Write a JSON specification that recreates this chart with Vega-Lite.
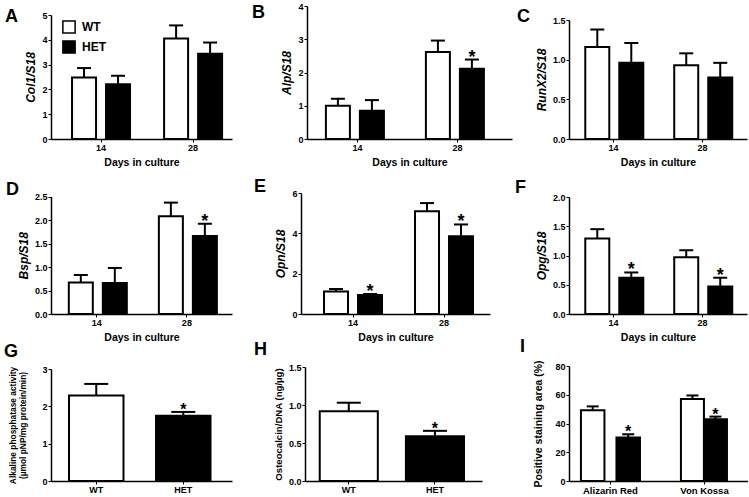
{
  "$schema": "https://vega.github.io/schema/vega-lite/v6.json",
  "padding": {"left": 4, "top": 2, "right": 0, "bottom": 0},
  "background": "white",
  "config": {
    "view": {"stroke": null},
    "font": "Liberation Sans",
    "axis": {"domainColor": "black", "domainWidth": 1.5, "tickColor": "black", "tickWidth": 1, "tickSize": 3, "labelFont": "Liberation Sans", "labelFontWeight": "bold", "labelFontSize": 9, "labelColor": "black", "titleFont": "Liberation Sans", "titleFontWeight": "bold", "titleColor": "black", "grid": false, "labelPadding": 1},
    "axisX": {"labelAngle": 0, "titleFontSize": 10.5, "titlePadding": 5},
    "axisY": {"titleFontSize": 12, "titleFontStyle": "italic", "titlePadding": 4},
    "title": {"fontSize": 18, "fontWeight": "bold", "anchor": "start", "frame": "group", "color": "black", "font": "Liberation Sans", "baseline": "alphabetic", "offset": 0}
  },
  "columns": 3,
  "align": "each",
  "spacing": {"row": 52, "column": 0},
  "bounds": "flush",
  "resolve": {"scale": {"fill": "independent"}, "legend": {"fill": "independent"}},
  "concat": [
    {
      "width": 256, "height": 133,
      "title": {"text": "A", "dx": -46, "dy": 24},
      "data": {"values": [
        {"day": "14", "g": "WT", "v": 2.48, "e": 2.86, "s": 0},
        {"day": "14", "g": "HET", "v": 2.21, "e": 2.55, "s": 0},
        {"day": "28", "g": "WT", "v": 4.05, "e": 4.58, "s": 0},
        {"day": "28", "g": "HET", "v": 3.44, "e": 3.89, "s": 0}
      ]},
      "encoding": {
        "x": {"field": "day", "type": "nominal", "sort": ["14", "28"], "scale": {"range": [0, 181], "paddingInner": 0.37, "paddingOuter": 0.168, "align": 0.68}, "axis": {"title": "Days in culture"}},
        "xOffset": {"field": "g", "type": "nominal", "sort": ["WT", "HET"], "scale": {"paddingInner": 0.294, "paddingOuter": 0}},
        "y": {"field": "v", "type": "quantitative", "scale": {"domain": [0, 5], "range": [133, 9], "nice": false}, "axis": {"title": "Col1/S18", "values": [0, 1, 2, 3, 4, 5]}}
      },
      "layer": [
        {"mark": {"type": "bar", "stroke": "black", "strokeWidth": 2, "opacity": 1}, "encoding": {"fill": {"field": "g", "type": "nominal", "sort": ["WT", "HET"], "scale": {"domain": ["WT", "HET"], "range": ["white", "black"]}, "legend": {"orient": "none", "legendX": 11, "legendY": 14, "title": null, "symbolType": "square", "symbolSize": 150, "symbolStrokeColor": "black", "symbolStrokeWidth": 1.5, "symbolOpacity": 1, "labelFontSize": 12, "labelFontWeight": "bold", "labelFont": "Liberation Sans", "labelColor": "black", "rowPadding": 0, "labelOffset": 6, "padding": 0}}}},
        {"mark": {"type": "rule", "color": "black", "strokeWidth": 2, "opacity": 1}, "encoding": {"y2": {"field": "e"}}},
        {"mark": {"type": "tick", "color": "black", "thickness": 2, "size": 14, "opacity": 1}, "encoding": {"y": {"field": "e", "type": "quantitative"}}}
      ]
    },
    {
      "width": 262, "height": 133,
      "title": {"text": "B", "dx": -55, "dy": 24},
      "data": {"values": [
        {"day": "14", "g": "WT", "v": 1.0, "e": 1.21, "s": 0},
        {"day": "14", "g": "HET", "v": 0.85, "e": 1.17, "s": 0},
        {"day": "28", "g": "WT", "v": 2.62, "e": 2.96, "s": 0},
        {"day": "28", "g": "HET", "v": 2.11, "e": 2.39, "s": 1}
      ]},
      "encoding": {
        "x": {"field": "day", "type": "nominal", "sort": ["14", "28"], "scale": {"range": [0, 205], "paddingInner": 0.37, "paddingOuter": 0.21, "align": 0.45}, "axis": {"title": "Days in culture"}},
        "xOffset": {"field": "g", "type": "nominal", "sort": ["WT", "HET"], "scale": {"paddingInner": 0.32, "paddingOuter": 0}},
        "y": {"field": "v", "type": "quantitative", "scale": {"domain": [0, 4], "range": [133, 0], "nice": false}, "axis": {"title": "Alp/S18", "values": [0, 1, 2, 3, 4]}}
      },
      "layer": [
        {"mark": {"type": "bar", "stroke": "black", "strokeWidth": 2, "opacity": 1}, "encoding": {"fill": {"field": "g", "type": "nominal", "scale": {"domain": ["WT", "HET"], "range": ["white", "black"]}, "legend": null}}},
        {"mark": {"type": "rule", "color": "black", "strokeWidth": 2, "opacity": 1}, "encoding": {"y2": {"field": "e"}}},
        {"mark": {"type": "tick", "color": "black", "thickness": 2, "size": 14, "opacity": 1}, "encoding": {"y": {"field": "e", "type": "quantitative"}}},
        {"transform": [{"filter": "datum.s == 1"}], "mark": {"type": "text", "text": "*", "fontSize": 18, "fontWeight": "bold", "baseline": "alphabetic", "dy": 3, "color": "black"}, "encoding": {"y": {"field": "e", "type": "quantitative"}}}
      ]
    },
    {
      "width": 178, "height": 133,
      "title": {"text": "C", "dx": -52, "dy": 24},
      "data": {"values": [
        {"day": "14", "g": "WT", "v": 1.16, "e": 1.38, "s": 0},
        {"day": "14", "g": "HET", "v": 0.96, "e": 1.21, "s": 0},
        {"day": "28", "g": "WT", "v": 0.93, "e": 1.08, "s": 0},
        {"day": "28", "g": "HET", "v": 0.775, "e": 0.96, "s": 0}
      ]},
      "encoding": {
        "x": {"field": "day", "type": "nominal", "sort": ["14", "28"], "scale": {"range": [0, 178], "paddingInner": 0.365, "paddingOuter": 0.183, "align": 0.5}, "axis": {"title": "Days in culture"}},
        "xOffset": {"field": "g", "type": "nominal", "sort": ["WT", "HET"], "scale": {"paddingInner": 0.3, "paddingOuter": 0}},
        "y": {"field": "v", "type": "quantitative", "scale": {"domain": [0, 1.5], "range": [133, 14], "nice": false}, "axis": {"title": "RunX2/S18", "values": [0, 0.5, 1, 1.5], "format": ".1f"}}
      },
      "layer": [
        {"mark": {"type": "bar", "stroke": "black", "strokeWidth": 2, "opacity": 1}, "encoding": {"fill": {"field": "g", "type": "nominal", "scale": {"domain": ["WT", "HET"], "range": ["white", "black"]}, "legend": null}}},
        {"mark": {"type": "rule", "color": "black", "strokeWidth": 2, "opacity": 1}, "encoding": {"y2": {"field": "e"}}},
        {"mark": {"type": "tick", "color": "black", "thickness": 2, "size": 14, "opacity": 1}, "encoding": {"y": {"field": "e", "type": "quantitative"}}}
      ]
    },
    {
      "width": 256, "height": 123,
      "title": {"text": "D", "dx": -45, "dy": 12},
      "data": {"values": [
        {"day": "14", "g": "WT", "v": 0.67, "e": 0.83, "s": 0},
        {"day": "14", "g": "HET", "v": 0.66, "e": 0.98, "s": 0},
        {"day": "28", "g": "WT", "v": 2.08, "e": 2.37, "s": 0},
        {"day": "28", "g": "HET", "v": 1.66, "e": 1.92, "s": 1}
      ]},
      "encoding": {
        "x": {"field": "day", "type": "nominal", "sort": ["14", "28"], "scale": {"range": [0, 181], "paddingInner": 0.378, "paddingOuter": 0.194, "align": 0.51}, "axis": {"title": "Days in culture"}},
        "xOffset": {"field": "g", "type": "nominal", "sort": ["WT", "HET"], "scale": {"paddingInner": 0.33, "paddingOuter": 0}},
        "y": {"field": "v", "type": "quantitative", "scale": {"domain": [0, 2.5], "range": [123, 5.5], "nice": false}, "axis": {"title": "Bsp/S18", "values": [0, 0.5, 1, 1.5, 2, 2.5], "format": ".1f"}}
      },
      "layer": [
        {"mark": {"type": "bar", "stroke": "black", "strokeWidth": 2, "opacity": 1}, "encoding": {"fill": {"field": "g", "type": "nominal", "scale": {"domain": ["WT", "HET"], "range": ["white", "black"]}, "legend": null}}},
        {"mark": {"type": "rule", "color": "black", "strokeWidth": 2, "opacity": 1}, "encoding": {"y2": {"field": "e"}}},
        {"mark": {"type": "tick", "color": "black", "thickness": 2, "size": 14, "opacity": 1}, "encoding": {"y": {"field": "e", "type": "quantitative"}}},
        {"transform": [{"filter": "datum.s == 1"}], "mark": {"type": "text", "text": "*", "fontSize": 18, "fontWeight": "bold", "baseline": "alphabetic", "dy": 3, "color": "black"}, "encoding": {"y": {"field": "e", "type": "quantitative"}}}
      ]
    },
    {
      "width": 262, "height": 123,
      "title": {"text": "E", "dx": -53, "dy": 11},
      "data": {"values": [
        {"day": "14", "g": "WT", "v": 1.12, "e": 1.24, "s": 0},
        {"day": "14", "g": "HET", "v": 0.94, "e": 0.99, "s": 1},
        {"day": "28", "g": "WT", "v": 5.1, "e": 5.5, "s": 0},
        {"day": "28", "g": "HET", "v": 3.86, "e": 4.44, "s": 1}
      ]},
      "encoding": {
        "x": {"field": "day", "type": "nominal", "sort": ["14", "28"], "scale": {"range": [-6, 183], "paddingInner": 0.363, "paddingOuter": 0.22, "align": 0.575}, "axis": {"title": "Days in culture"}},
        "xOffset": {"field": "g", "type": "nominal", "sort": ["WT", "HET"], "scale": {"paddingInner": 0.29, "paddingOuter": 0}},
        "y": {"field": "v", "type": "quantitative", "scale": {"domain": [0, 6], "range": [123, 2], "nice": false}, "axis": {"title": "Opn/S18", "values": [0, 2, 4, 6], "offset": 6}}
      },
      "layer": [
        {"mark": {"type": "bar", "stroke": "black", "strokeWidth": 2, "opacity": 1}, "encoding": {"fill": {"field": "g", "type": "nominal", "scale": {"domain": ["WT", "HET"], "range": ["white", "black"]}, "legend": null}}},
        {"mark": {"type": "rule", "color": "black", "strokeWidth": 2, "opacity": 1}, "encoding": {"y2": {"field": "e"}}},
        {"mark": {"type": "tick", "color": "black", "thickness": 2, "size": 14, "opacity": 1}, "encoding": {"y": {"field": "e", "type": "quantitative"}}},
        {"transform": [{"filter": "datum.s == 1"}], "mark": {"type": "text", "text": "*", "fontSize": 18, "fontWeight": "bold", "baseline": "alphabetic", "dy": 3, "color": "black"}, "encoding": {"y": {"field": "e", "type": "quantitative"}}}
      ]
    },
    {
      "width": 178, "height": 123,
      "title": {"text": "F", "dx": -54, "dy": 10},
      "data": {"values": [
        {"day": "14", "g": "WT", "v": 1.29, "e": 1.45, "s": 0},
        {"day": "14", "g": "HET", "v": 0.62, "e": 0.71, "s": 1},
        {"day": "28", "g": "WT", "v": 0.97, "e": 1.09, "s": 0},
        {"day": "28", "g": "HET", "v": 0.47, "e": 0.62, "s": 1}
      ]},
      "encoding": {
        "x": {"field": "day", "type": "nominal", "sort": ["14", "28"], "scale": {"range": [0, 178], "paddingInner": 0.365, "paddingOuter": 0.183, "align": 0.5}, "axis": {"title": "Days in culture"}},
        "xOffset": {"field": "g", "type": "nominal", "sort": ["WT", "HET"], "scale": {"paddingInner": 0.3, "paddingOuter": 0}},
        "y": {"field": "v", "type": "quantitative", "scale": {"domain": [0, 2], "range": [123, 6], "nice": false}, "axis": {"title": "Opg/S18", "values": [0, 0.5, 1, 1.5, 2], "format": ".1f"}}
      },
      "layer": [
        {"mark": {"type": "bar", "stroke": "black", "strokeWidth": 2, "opacity": 1}, "encoding": {"fill": {"field": "g", "type": "nominal", "scale": {"domain": ["WT", "HET"], "range": ["white", "black"]}, "legend": null}}},
        {"mark": {"type": "rule", "color": "black", "strokeWidth": 2, "opacity": 1}, "encoding": {"y2": {"field": "e"}}},
        {"mark": {"type": "tick", "color": "black", "thickness": 2, "size": 14, "opacity": 1}, "encoding": {"y": {"field": "e", "type": "quantitative"}}},
        {"transform": [{"filter": "datum.s == 1"}], "mark": {"type": "text", "text": "*", "fontSize": 18, "fontWeight": "bold", "baseline": "alphabetic", "dy": 3, "color": "black"}, "encoding": {"y": {"field": "e", "type": "quantitative"}}}
      ]
    },
    {
      "width": 256, "height": 115,
      "title": {"text": "G", "dx": -47, "dy": 0},
      "data": {"values": [
        {"g": "WT", "v": 2.29, "e": 2.6, "s": 0},
        {"g": "HET", "v": 1.75, "e": 1.85, "s": 1}
      ]},
      "encoding": {
        "x": {"field": "g", "type": "nominal", "sort": ["WT", "HET"], "scale": {"range": [0, 181], "paddingInner": 0.374, "paddingOuter": 0.227, "align": 0.456}, "axis": {"title": null}},
        "y": {"field": "v", "type": "quantitative", "scale": {"domain": [0, 3], "range": [115, 3], "nice": false}, "axis": {"title": ["Alkaline phosphatase activity", "(µmol pNP/mg protein/min)"], "titleFontStyle": "normal", "titleFontSize": 8.4, "titleLineHeight": 10, "titlePadding": 14, "values": [0, 1, 2, 3]}}
      },
      "layer": [
        {"mark": {"type": "bar", "stroke": "black", "strokeWidth": 2, "opacity": 1}, "encoding": {"fill": {"field": "g", "type": "nominal", "scale": {"domain": ["WT", "HET"], "range": ["white", "black"]}, "legend": null}}},
        {"mark": {"type": "rule", "color": "black", "strokeWidth": 2, "opacity": 1}, "encoding": {"y2": {"field": "e"}}},
        {"mark": {"type": "tick", "color": "black", "thickness": 2, "size": 24, "opacity": 1}, "encoding": {"y": {"field": "e", "type": "quantitative"}}},
        {"transform": [{"filter": "datum.s == 1"}], "mark": {"type": "text", "text": "*", "fontSize": 16, "fontWeight": "bold", "baseline": "alphabetic", "dy": 3, "color": "black"}, "encoding": {"y": {"field": "e", "type": "quantitative"}}}
      ]
    },
    {
      "width": 262, "height": 115,
      "title": {"text": "H", "dx": -53, "dy": 0},
      "data": {"values": [
        {"g": "WT", "v": 0.917, "e": 1.03, "s": 0},
        {"g": "HET", "v": 0.59, "e": 0.66, "s": 1}
      ]},
      "encoding": {
        "x": {"field": "g", "type": "nominal", "sort": ["WT", "HET"], "scale": {"range": [-2, 175], "paddingInner": 0.326, "paddingOuter": 0.19, "align": 0.45}, "axis": {"title": null}},
        "y": {"field": "v", "type": "quantitative", "scale": {"domain": [0, 1.5], "range": [115, 1], "nice": false}, "axis": {"title": "Osteocalcin/DNA (ng/µg)", "titleFontStyle": "normal", "titleFontSize": 9.6, "titlePadding": 5, "values": [0, 0.5, 1, 1.5], "format": ".1f", "offset": 2}}
      },
      "layer": [
        {"mark": {"type": "bar", "stroke": "black", "strokeWidth": 2, "opacity": 1}, "encoding": {"fill": {"field": "g", "type": "nominal", "scale": {"domain": ["WT", "HET"], "range": ["white", "black"]}, "legend": null}}},
        {"mark": {"type": "rule", "color": "black", "strokeWidth": 2, "opacity": 1}, "encoding": {"y2": {"field": "e"}}},
        {"mark": {"type": "tick", "color": "black", "thickness": 2, "size": 24, "opacity": 1}, "encoding": {"y": {"field": "e", "type": "quantitative"}}},
        {"transform": [{"filter": "datum.s == 1"}], "mark": {"type": "text", "text": "*", "fontSize": 16, "fontWeight": "bold", "baseline": "alphabetic", "dy": 3, "color": "black"}, "encoding": {"y": {"field": "e", "type": "quantitative"}}}
      ]
    },
    {
      "width": 179, "height": 115,
      "title": {"text": "I", "dx": -49, "dy": 0},
      "data": {"values": [
        {"st": "Alizarin Red", "g": "WT", "v": 49.3, "e": 51.9, "s": 0},
        {"st": "Alizarin Red", "g": "HET", "v": 30.2, "e": 32.5, "s": 1},
        {"st": "Von Kossa", "g": "WT", "v": 57.0, "e": 59.5, "s": 0},
        {"st": "Von Kossa", "g": "HET", "v": 43.0, "e": 44.8, "s": 1}
      ]},
      "encoding": {
        "x": {"field": "st", "type": "nominal", "sort": ["Alizarin Red", "Von Kossa"], "scale": {"domain": ["Alizarin Red", "Von Kossa"], "range": [0, 179], "paddingInner": 0.372, "paddingOuter": 0.138, "align": 0.46}, "axis": {"title": null, "labelFontSize": 9.5}},
        "y": {"field": "v", "type": "quantitative", "scale": {"domain": [0, 80], "range": [115, 0], "nice": false}, "axis": {"title": "Positive staining area (%)", "titleFontStyle": "normal", "titleFontSize": 10.5, "titlePadding": 11, "values": [0, 20, 40, 60, 80]}}
      },
      "resolve": {"scale": {"xOffset": "independent"}},
      "layer": [
        {
          "transform": [{"filter": "datum.st == 'Alizarin Red'"}],
          "encoding": {"xOffset": {"field": "g", "type": "nominal", "sort": ["WT", "HET"], "scale": {"paddingInner": 0.338, "paddingOuter": 0}}},
          "layer": [
            {"mark": {"type": "bar", "stroke": "black", "strokeWidth": 2, "opacity": 1}, "encoding": {"fill": {"field": "g", "type": "nominal", "scale": {"domain": ["WT", "HET"], "range": ["white", "black"]}, "legend": null}}},
            {"mark": {"type": "rule", "color": "black", "strokeWidth": 2, "opacity": 1}, "encoding": {"y2": {"field": "e"}}},
            {"mark": {"type": "tick", "color": "black", "thickness": 2, "size": 12, "opacity": 1}, "encoding": {"y": {"field": "e", "type": "quantitative"}}},
            {"transform": [{"filter": "datum.s == 1"}], "mark": {"type": "text", "text": "*", "fontSize": 16, "fontWeight": "bold", "baseline": "alphabetic", "dy": 3, "color": "black"}, "encoding": {"y": {"field": "e", "type": "quantitative"}}}
          ]
        },
        {
          "transform": [{"filter": "datum.st == 'Von Kossa'"}],
          "encoding": {"xOffset": {"field": "g", "type": "nominal", "sort": ["WT", "HET"], "scale": {"paddingInner": 0, "paddingOuter": 0.2826, "align": 0.46}}},
          "layer": [
            {"mark": {"type": "bar", "stroke": "black", "strokeWidth": 2, "opacity": 1}, "encoding": {"fill": {"field": "g", "type": "nominal", "scale": {"domain": ["WT", "HET"], "range": ["white", "black"]}, "legend": null}}},
            {"mark": {"type": "rule", "color": "black", "strokeWidth": 2, "opacity": 1}, "encoding": {"y2": {"field": "e"}}},
            {"mark": {"type": "tick", "color": "black", "thickness": 2, "size": 12, "opacity": 1}, "encoding": {"y": {"field": "e", "type": "quantitative"}}},
            {"transform": [{"filter": "datum.s == 1"}], "mark": {"type": "text", "text": "*", "fontSize": 16, "fontWeight": "bold", "baseline": "alphabetic", "dy": 3, "color": "black"}, "encoding": {"y": {"field": "e", "type": "quantitative"}}}
          ]
        }
      ]
    }
  ]
}
